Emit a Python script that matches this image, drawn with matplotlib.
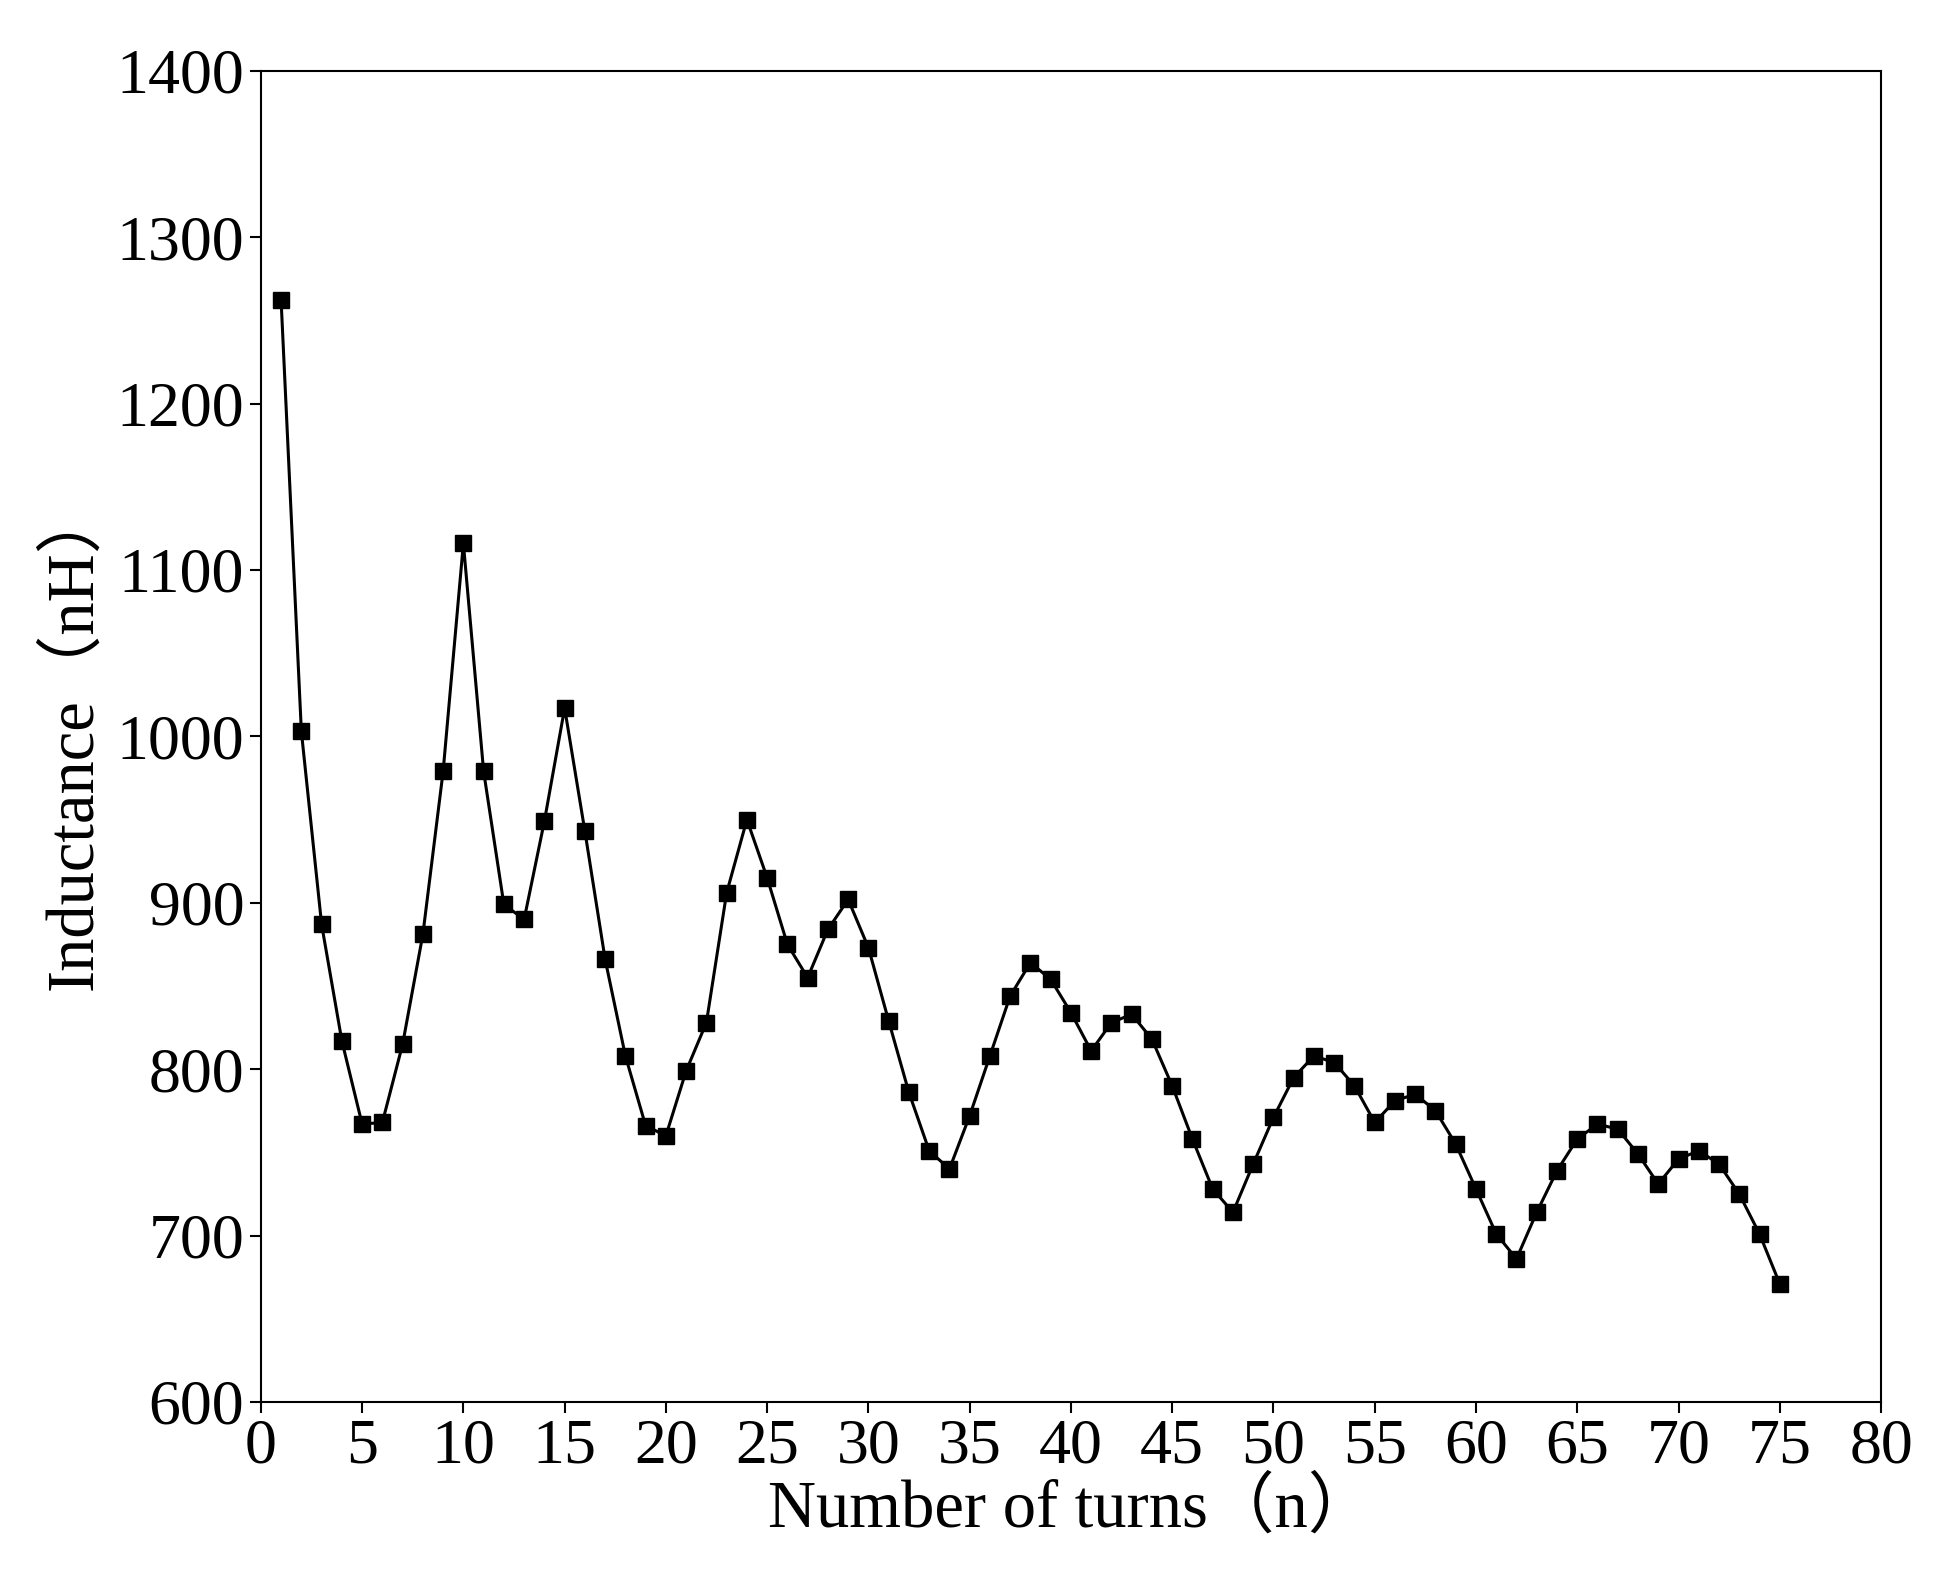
import matplotlib
matplotlib.use("Agg")
import matplotlib.pyplot as plt

turns = list(range(1, 76))
inductance = [1262, 1003, 887, 817, 767, 768, 815, 881, 979, 1116,
              979, 899, 890, 949, 1017, 943, 866, 808, 766, 760,
              799, 828, 906, 950, 915, 875, 855, 884, 902, 873,
              829, 786, 751, 740, 772, 808, 844, 864, 854, 834,
              811, 828, 833, 818, 790, 758, 728, 714, 743, 771,
              795, 808, 804, 790, 768, 781, 785, 775, 755, 728,
              701, 686, 714, 739, 758, 767, 764, 749, 731, 746,
              751, 743, 725, 701, 671]
xticks = list(range(0, 81, 5))
yticks = list(range(600, 1401, 100))

fam = ['Liberation Serif', 'Noto Sans CJK SC']
plt.rcParams['font.family'] = fam

fig = plt.figure(figsize=(19.38, 15.91), dpi=100)
ax = fig.add_axes([0.1346, 0.1188, 0.8410 - 0.005, 0.8367 + 0.0])
ax.plot(turns, inductance, color='black', lw=2.2, marker='s', ms=11)
ax.set_xlim(0, 80)
ax.set_ylim(600, 1400)
ax.set_xticks(xticks)
ax.set_yticks(yticks)
ax.tick_params(labelsize=46, direction='out', length=8, width=1.5, pad=4)
for s in ax.spines.values():
    s.set_linewidth(1.5)
ax.set_xlabel('Number of turns（n）', fontsize=48, labelpad=0)
ax.set_ylabel('Inductance（nH）', fontsize=48, labelpad=8)
fig.savefig('out.png', dpi=100)
